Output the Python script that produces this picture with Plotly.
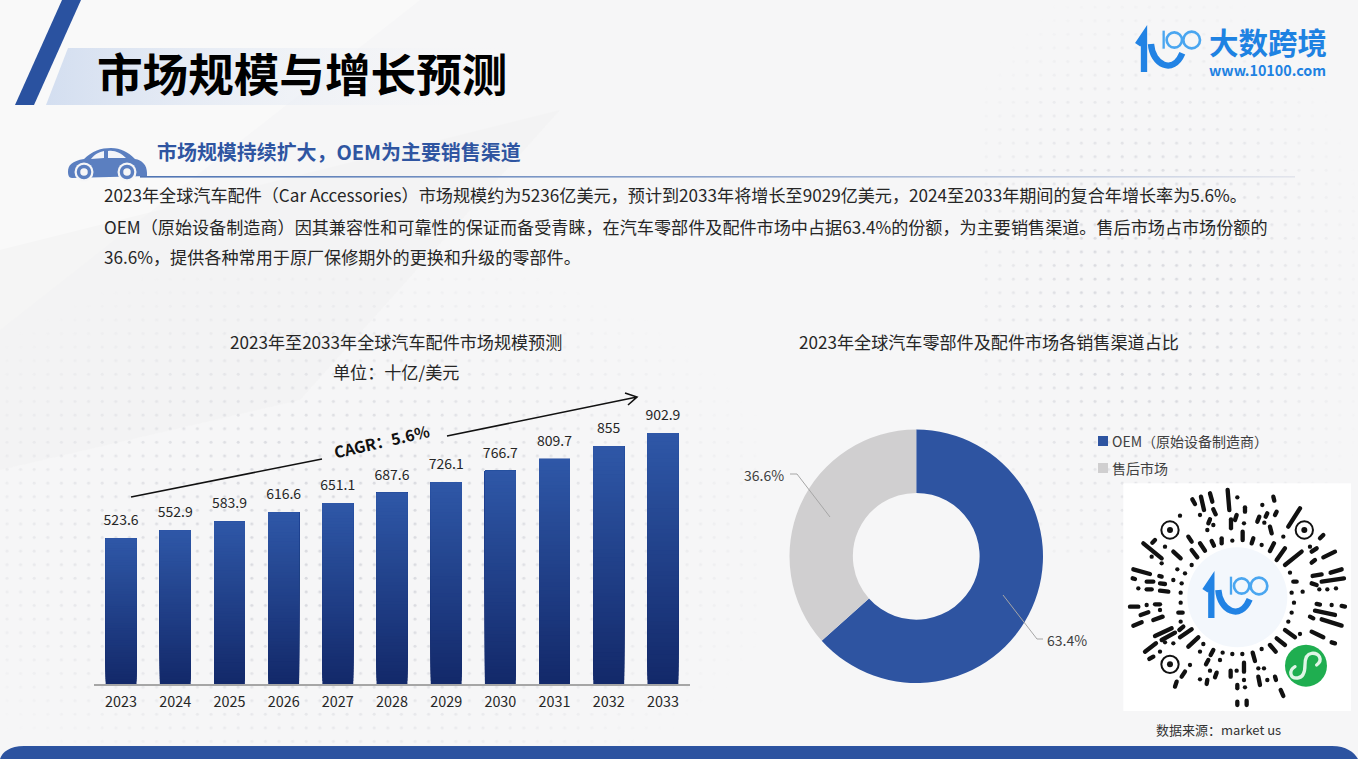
import base64
import plotly.graph_objects as go

W, H = 1358, 759
FONT = "Noto Sans CJK SC"

# bar chart
years = ["2023", "2024", "2025", "2026", "2027", "2028", "2029", "2030", "2031", "2032", "2033"]
market_size = [523.6, 552.9, 583.9, 616.6, 651.1, 687.6, 726.1, 766.7, 809.7, 855, 902.9]

# donut chart
channels = ["OEM（原始设备制造商）", "售后市场"]
channel_share = [63.4, 36.6]
channel_colors = ["#2E54A1", "#D0CFD0"]

# texts
page_title = "市场规模与增长预测"
sub_title = "市场规模持续扩大，OEM为主要销售渠道"
body_lines = [
    "2023年全球汽车配件（Car Accessories）市场规模约为5236亿美元，预计到2033年将增长至9029亿美元，2024至2033年期间的复合年增长率为5.6%。",
    "OEM（原始设备制造商）因其兼容性和可靠性的保证而备受青睐，在汽车零部件及配件市场中占据63.4%的份额，为主要销售渠道。售后市场占市场份额的",
    "36.6%，提供各种常用于原厂保修期外的更换和升级的零部件。",
]

# QR code strokes, in the coordinates of a 714 px wide tile
qr_strokes = [
    (217,58,225,72),(243,50,252,90),(270,40,277,65),(280,88,287,103),(323,30,328,90),(352,52,352,52),
    (375,82,375,95),(350,105,345,120),(333,118,333,145),(372,130,372,130),(460,50,463,62),(427,75,427,75),
    (442,100,437,110),(470,95,465,105),(418,110,412,125),(433,128,433,128),(540,85,505,140),(450,140,455,160),
    (180,107,180,107),(240,105,240,105),(270,118,265,130),(262,150,262,150),(280,135,280,135),
    (205,170,215,185),(240,190,255,212),(215,210,232,232),(275,183,282,197),(305,175,305,190),(337,182,337,182),
    (368,155,368,180),(400,175,395,190),(425,195,425,195),(462,190,450,213),(490,170,490,170),(495,205,470,240),
    (545,215,495,255),(610,165,600,175),(590,205,575,215),(570,200,570,200),(645,215,610,232),(585,240,575,248),
    (70,190,125,235),(105,180,97,188),(135,200,135,200),(95,230,95,230),(160,215,182,235),(125,250,125,250),
    (215,255,215,255),(195,280,195,280),(172,268,172,268),(160,300,160,300),(40,268,90,282),(38,295,45,297),
    (80,305,100,305),(118,288,125,290),(120,310,135,312),(55,325,55,325),(80,328,95,328),(120,332,145,335),
    (185,310,185,310),(182,338,182,338),(182,368,182,368),(30,380,55,380),(80,375,80,375),(105,373,120,373),
    (62,405,85,397),(120,390,120,390),(100,420,128,410),(40,437,65,427),(175,398,188,398),(182,425,182,425),
    (190,440,178,450),(105,468,155,445),(125,480,165,458),(180,472,215,448),(205,500,235,472),(135,487,135,487),
    (160,490,160,490),(75,515,108,490),(120,515,120,515),(88,537,100,530),(250,492,250,492),(240,515,240,515),
    (280,510,272,525),(308,518,308,518),(337,522,337,522),(367,522,367,522),(398,518,405,543),(425,507,425,507),
    (450,495,467,515),(470,475,495,495),(495,450,525,472),(540,462,540,462),(575,455,610,472),(635,487,645,490),
    (265,540,258,553),(300,540,300,540),(210,555,210,555),(195,575,185,590),(170,605,165,620),(240,598,240,598),
    (270,572,270,572),(290,578,285,592),(262,600,260,612),(332,572,332,590),(350,572,350,572),(372,548,372,575),
    (372,600,372,600),(352,615,352,625),(375,622,375,622),(415,565,415,565),(432,565,432,565),(415,590,420,615),
    (442,600,442,600),(465,590,468,600),(482,630,490,648),(352,665,352,675),(380,662,380,675),(510,278,510,278),
    (520,305,530,305),(515,338,515,338),(548,335,548,335),(522,368,522,368),(515,398,515,398),(505,425,505,425),
    (575,310,590,315),(578,288,605,283),(605,305,672,295),(632,278,665,268),(598,328,598,328),(622,328,622,328),
    (648,325,648,325),(590,372,600,374),(635,375,635,375),(665,378,675,380),(585,392,645,405),(570,410,580,415),
    (605,418,665,437),
]


def px(x):
    return x / W


def py(y):
    return 1 - y / H


def logo_svg(x, y, s):
    # 10100 logo mark, drawn in a 200x130 box
    return f'''<g transform="translate({x} {y}) scale({s})" fill="none">
<path d="M2 44 L21 16 L21 126" stroke="#2283E4" stroke-width="19"/>
<path d="M42 42 C46 104 108 136 136 70" stroke="#2283E4" stroke-width="19"/>
<path d="M80 2 L80 56" stroke="#4AA6F0" stroke-width="7"/>
<circle cx="112" cy="30" r="23" stroke="#4AA6F0" stroke-width="8"/>
<circle cx="164" cy="30" r="25" stroke="#4AA6F0" stroke-width="8"/></g>'''


def page_svg():
    dots = '<pattern id="d" width="13.6" height="13.6" patternUnits="userSpaceOnUse"><circle cx="7" cy="7" r="1.5" fill="#d9dadf"/></pattern>'
    strokes = "".join(f'<line x1="{a}" y1="{b}" x2="{c}" y2="{d}"/>' for a, b, c, d in qr_strokes)
    rings = "".join(
        f'<circle cx="{cx}" cy="{cy}" r="26" fill="none" stroke="#111" stroke-width="6"/><circle cx="{cx}" cy="{cy}" r="9" fill="#111"/>'
        for cx, cy in [(150, 150), (553, 150), (150, 553)]
    )
    svg = f'''<svg xmlns="http://www.w3.org/2000/svg" width="{W}" height="{H}" viewBox="0 0 {W} {H}">
<defs>{dots}
<linearGradient id="band"><stop offset="0" stop-color="#d3def0"/><stop offset="1" stop-color="#f5f6f8" stop-opacity="0"/></linearGradient>
<linearGradient id="rule"><stop offset="0" stop-color="#4f74b3"/><stop offset="0.5" stop-color="#8ea5cd"/><stop offset="1" stop-color="#e3e5ec"/></linearGradient>
<radialGradient id="m1" cx="0.45" cy="0.55" r="0.6"><stop offset="0.3" stop-color="#fff"/><stop offset="1" stop-color="#000"/></radialGradient>
<mask id="ml"><rect x="0" y="270" width="760" height="480" fill="url(#m1)"/></mask>
<mask id="mr"><rect x="980" y="0" width="378" height="560" fill="url(#m1)"/></mask>
</defs>
<rect width="{W}" height="{H}" fill="#f6f6f7"/>
<polygon points="0,0 420,0 0,330" fill="#f9f9f9"/>
<polygon points="560,110 300,400 0,470 0,250" fill="#f1f1f2" opacity="0.6"/>
<rect x="0" y="270" width="760" height="480" fill="url(#d)" mask="url(#ml)"/>
<rect x="980" y="0" width="378" height="560" fill="url(#d)" mask="url(#mr)"/>
<polygon points="62,0 81,0 34,105 15,105" fill="#2A52A0"/>
<polygon points="68,48 520,48 520,105 46,105" fill="url(#band)"/>
<rect x="140" y="176" width="1155" height="1.6" fill="url(#rule)"/>
<g fill="#5B7FC0"><path d="M68 172 C68 165 72 161 84 159 C92 151 101 148 111 148 C121 148 128 152 135 159 C142 160 147 165 147 173 L147 176 L72 178 C69 178 68 175 68 172 Z"/></g>
<path d="M91 159 C95 154 99 152 104 151 L104 158 Z M108 151 C115 150 121 153 126 158 L108 158 Z" fill="#f2f4f9"/>
<g fill="#f6f6f7"><circle cx="84" cy="172" r="9.5"/><circle cx="127" cy="172" r="9.5"/></g>
<g fill="none" stroke="#5B7FC0" stroke-width="3.5"><circle cx="84" cy="172" r="5.5"/><circle cx="127" cy="172" r="5.5"/></g>
{logo_svg(1137, 30, 0.3333)}
<path d="M0 759 C2 752 10 746 24 746 L1332 746 C1346 746 1354 752 1358 759 Z" fill="#2C53A0"/>
<g transform="translate(1120 480) scale(0.3333)">
<rect x="10" y="10" width="683" height="683" fill="#fff"/>
<g stroke="#111" stroke-width="13" stroke-linecap="round">{strokes}</g>{rings}
<circle cx="352" cy="352" r="150" fill="#f3f7fc"/>
{logo_svg(253, 288, 1)}
<circle cx="558" cy="557" r="63" fill="#1FAE50"/>
<path d="M590 555 C610 540 598 518 575 520 C558 522 555 538 555 555 C555 572 552 592 533 594 C510 596 505 572 525 560" fill="none" stroke="#dff5e6" stroke-width="10" stroke-linecap="round"/>
</g></svg>'''
    return "data:image/svg+xml;base64," + base64.b64encode(svg.encode("utf-8")).decode()


def label(text, x, y, size, color="#262626", anchor="center", weight=400, angle=0):
    return dict(
        text=text, x=px(x), y=py(y), xref="paper", yref="paper", showarrow=False,
        xanchor=anchor, yanchor="middle", textangle=angle, align="left" if anchor == "left" else "center",
        font=dict(family=FONT, size=size, color=color, weight=weight),
    )


def line_shape(path, color="#A6A6A6", width=1):
    pts = []
    for cmd, x, y in path:
        pts.append(f"{cmd} {px(x):.5f} {py(y):.5f}")
    return dict(type="path", xref="paper", yref="paper", path=" ".join(pts), line=dict(color=color, width=width))


# each bar is painted as nested steps so it fades from top to bottom
STEPS = 60
top_rgb, bottom_rgb = (47, 88, 168), (19, 41, 106)
bar_x, bar_base, bar_h, bar_color = [], [], [], []
for year, value in zip(years, market_size):
    for i in range(STEPS):
        t = i / STEPS
        rgb = [round(b + (a - b) * t) for a, b in zip(top_rgb, bottom_rgb)]
        bar_x.append(year)
        bar_base.append(value * t)
        bar_h.append(value * (1 - t))
        bar_color.append(f"rgb({rgb[0]},{rgb[1]},{rgb[2]})")

fig = go.Figure()
fig.add_trace(go.Bar(x=bar_x, y=bar_h, base=bar_base, width=0.57, marker=dict(color=bar_color, line=dict(width=0)),
                     showlegend=False, hoverinfo="skip"))
# the hidden marker only lifts the value labels off the bars
fig.add_trace(go.Scatter(x=years, y=market_size, mode="markers+text", text=[f"{v:g}" for v in market_size],
                         marker=dict(size=14, opacity=0), textposition="top center",
                         textfont=dict(family=FONT, size=14, color="#262626"),
                         showlegend=False, hoverinfo="skip"))
fig.add_trace(go.Pie(labels=channels, values=channel_share, hole=0.5, sort=False, direction="clockwise", rotation=0,
                     marker=dict(colors=channel_colors, line=dict(width=0)), textinfo="none", showlegend=False,
                     domain=dict(x=[px(789.5), px(1043)], y=[py(683), py(429.5)])))

# logo name and web address share one text so their line gap can be set tight
logo_text = '<span style="font-size:29.5px">大数跨境</span><br><span style="font-size:14.3px">www.10100.com</span>'

annotations = [
    label(page_title, 95, 72, 45.6, "#000000", "left", 700),
    label(sub_title, 155, 151, 19.95, "#2F55A1", "left", 700),
    label(logo_text, 1207, 50, 16.8, "#1E82E2", "left", 700),
    label("2023年至2033年全球汽车配件市场规模预测", 396, 341, 17.1),
    label("单位：十亿/美元", 396, 371, 17.1),
    label("2023年全球汽车零部件及配件市场各销售渠道占比", 989, 341, 17.1),
    label("CAGR：5.6%", 381, 441, 15.8, "#111111", "center", 700, -13),
    label(f"{channel_share[1]}%", 764, 475, 14, "#404040"),
    label(f"{channel_share[0]}%", 1067, 640, 14, "#404040"),
    label(channels[0], 1110, 441, 14, "#404040", "left"),
    label(channels[1], 1110, 468, 14, "#404040", "left"),
    label("数据来源：market us", 1218, 729, 13, "#333333"),
]
for text, y in zip(body_lines, [194, 226, 256]):
    annotations.append(label(text, 102, y, 17.12, "#262626", "left"))

shapes = [
    line_shape([("M", 131, 497), ("L", 322, 459)], "#111111", 1.6),
    line_shape([("M", 447, 436), ("L", 637, 397), ("M", 625, 393), ("L", 637, 397), ("L", 628, 405)], "#111111", 1.6),
    line_shape([("M", 790, 474), ("L", 797, 474), ("L", 830, 517)]),
    line_shape([("M", 1003, 595), ("L", 1037, 639), ("L", 1043, 639)]),
    dict(type="rect", xref="paper", yref="paper", x0=px(1098), x1=px(1108), y0=py(446), y1=py(436),
         fillcolor=channel_colors[0], line=dict(width=0)),
    dict(type="rect", xref="paper", yref="paper", x0=px(1098), x1=px(1108), y0=py(473), y1=py(463),
         fillcolor=channel_colors[1], line=dict(width=0)),
]

fig.update_layout(
    width=W, height=H, margin=dict(l=0, r=0, t=0, b=0), autosize=False,
    paper_bgcolor="rgba(0,0,0,0)", plot_bgcolor="rgba(0,0,0,0)",
    barmode="overlay", showlegend=False, font=dict(family=FONT),
    xaxis=dict(domain=[px(94), px(690)], type="category", categoryorder="array", categoryarray=years,
               range=[-0.5, 10.5], showgrid=False, zeroline=False, ticks="", showline=True,
               linecolor="#A6A6A6", linewidth=1.5, ticklabelstandoff=4,
               tickfont=dict(family=FONT, size=14.4, color="#262626"), fixedrange=True),
    yaxis=dict(domain=[py(684), py(400)], range=[0, 1021.6], visible=False, fixedrange=True),
    images=[dict(source=page_svg(), xref="paper", yref="paper", x=0, y=1, sizex=1, sizey=1,
                 xanchor="left", yanchor="top", sizing="stretch", layer="below")],
    annotations=annotations, shapes=shapes,
)

fig.write_html("out.html", config=dict(displayModeBar=False),
               post_script="document.body.style.margin='0';document.body.style.overflow='hidden';")
